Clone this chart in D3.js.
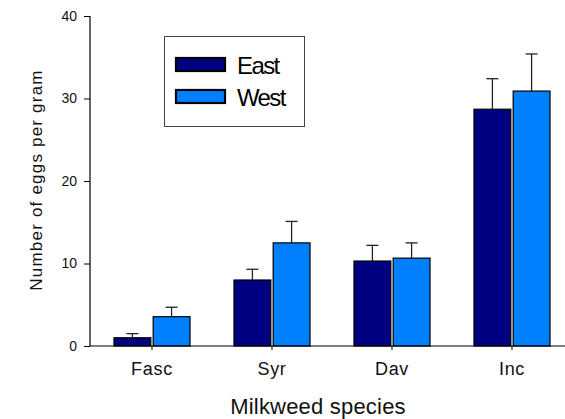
<!DOCTYPE html>
<html><head><meta charset="utf-8">
<script src="https://cdn.jsdelivr.net/npm/d3@7"></script>
<style>body{margin:0;background:#fff}svg{display:block}text{font-family:"Liberation Sans",Arial,sans-serif}</style>
</head><body><svg id="c" width="565" height="419"></svg>
<script>
const categories = ["Fasc","Syr","Dav","Inc"];
const seriesNames = ["East","West"];
const eastValues = [1.0, 8.0, 10.3, 28.7];
const eastErrors = [0.5, 1.3, 1.9, 3.7];
const westValues = [3.55, 12.5, 10.65, 30.9];
const westErrors = [1.15, 2.6, 1.85, 4.5];
const yTicks = [0,10,20,30,40];
const colors = ["#000080","#0080ff"];

const svg = d3.select("#c");
const y = d3.scaleLinear().domain([0,40]).range([346,16]);
const x = d3.scaleBand().domain(categories).range([92,572]);
const x1 = d3.scaleBand().domain(seriesNames).range([x.bandwidth()/2-38, x.bandwidth()/2+38]).paddingInner(0.06);

const series = [
  {name:"East", values:eastValues, errors:eastErrors},
  {name:"West", values:westValues, errors:westErrors}
];

// bars
series.forEach((s,si)=>{
  const g = svg.append("g");
  categories.forEach((c,i)=>{
    const bx = x(c)+x1(s.name);
    const bw = x1.bandwidth();
    const v = s.values[i], e = s.errors[i];
    const cx = bx+bw/2;
    g.append("line").attr("x1",cx).attr("x2",cx).attr("y1",y(v)).attr("y2",y(v+e)).attr("stroke","#222").attr("stroke-width",1.3);
    g.append("line").attr("x1",cx-6).attr("x2",cx+6).attr("y1",y(v+e)).attr("y2",y(v+e)).attr("stroke","#222").attr("stroke-width",1.3);
    g.append("rect").attr("x",bx).attr("y",y(v)).attr("width",bw).attr("height",y(0)-y(v))
      .attr("fill",colors[si]).attr("stroke","#000").attr("stroke-width",1.2);
  });
});

// y axis
const yAxis = d3.axisLeft(y).tickValues(yTicks).tickSize(6).tickPadding(7);
const gy = svg.append("g").attr("transform","translate(90,0)").call(yAxis);
gy.select(".domain").attr("d","M0,16V346").attr("stroke","#000").attr("stroke-width",1.2);
gy.selectAll(".tick line").attr("stroke","#000");
gy.selectAll(".tick text").attr("font-size",14).attr("font-family","Liberation Sans, Arial, sans-serif").attr("fill","#111");

// x axis
const xAxis = d3.axisBottom(x).tickSize(4).tickPadding(12);
const gx = svg.append("g").attr("transform","translate(0,346)").call(xAxis);
gx.select(".domain").attr("d","M90,0H565").attr("stroke","#000").attr("stroke-width",1.2);
gx.selectAll(".tick line").attr("stroke","#000");
gx.selectAll(".tick text").attr("font-size",18).attr("letter-spacing","0.7px").attr("font-family","Liberation Sans, Arial, sans-serif").attr("fill","#111");

// axis titles
svg.append("text").attr("x",318).attr("y",414).attr("text-anchor","middle")
  .attr("font-size",22).attr("letter-spacing","0.2px").attr("fill","#111").text("Milkweed species");
svg.append("text").attr("transform","translate(42,180) rotate(-90)").attr("text-anchor","middle")
  .attr("font-size",17).attr("letter-spacing","1.2px").attr("fill","#111").text("Number of eggs per gram");

// legend
const lg = svg.append("g");
lg.append("rect").attr("x",164.5).attr("y",36.5).attr("width",140).attr("height",90).attr("fill","#fff").attr("stroke","#444").attr("stroke-width",1);
seriesNames.forEach((n,i)=>{
  const yy = 58 + i*32;
  lg.append("rect").attr("x",176).attr("y",yy).attr("width",49).attr("height",13).attr("fill",colors[i]).attr("stroke","#000").attr("stroke-width",2.2);
  lg.append("text").attr("x",237).attr("y",yy+16).attr("font-size",24).attr("letter-spacing","-1.6px").attr("fill","#000").text(n);
});
</script></body></html>
